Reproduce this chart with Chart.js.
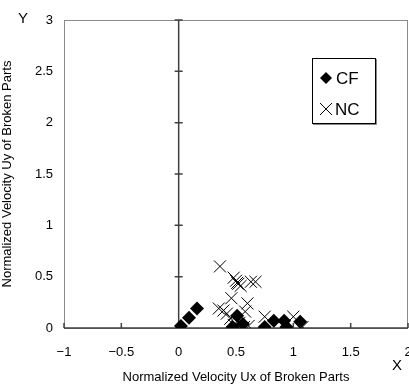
<!DOCTYPE html>
<html>
<head>
<meta charset="utf-8">
<script src="https://cdn.jsdelivr.net/npm/chart.js@4.4.1/dist/chart.umd.min.js"></script>
<style>
  html, body { margin: 0; padding: 0; background: #fff; }
  #wrap { width: 409px; height: 385px; position: relative; }
</style>
</head>
<body>
<div id="wrap"><canvas id="chart"></canvas></div>
<script>
// values
const cfX = [0.02, 0.09, 0.16, 0.47, 0.51, 0.56, 0.75, 0.83, 0.92, 0.94, 1.06];
const cfY = [0.02, 0.10, 0.19, 0.01, 0.12, 0.04, 0.01, 0.07, 0.07, 0.01, 0.06];

const ncX = [0.36, 0.48, 0.50, 0.51, 0.52, 0.54, 0.63, 0.67, 0.46, 0.35, 0.39, 0.42, 0.45, 0.60, 0.58, 0.48, 0.57, 0.61, 0.75, 1.00, 1.08, 0.53];
const ncY = [0.60, 0.49, 0.46, 0.44, 0.43, 0.41, 0.45, 0.45, 0.29, 0.19, 0.17, 0.14, 0.09, 0.24, 0.16, 0.03, 0.01, 0.02, 0.11, 0.11, 0.01, 0.05];

const seriesNames = ["CF", "NC"];
const xTitle = "Normalized Velocity Ux of Broken Parts";
const yTitle = "Normalized Velocity Uy of Broken Parts";

const font = "'Liberation Sans', Arial, sans-serif";

function toPoints(xs, ys) {
    return xs.map((x, i) => ({ x: x, y: ys[i] }));
}

// tick text like the original: no trailing zeros, real minus sign
function fmt(v) {
    return String(Math.round(v * 10) / 10).replace("-", "\u2212");
}

const noPadding = () => ({ left: 0, top: 0, right: 0, bottom: 0 });

const axesPlugin = {
    id: "axesFrame",
    beforeDatasetsDraw(chart) {
        const ctx = chart.ctx;
        const a = chart.chartArea;
        const xs = chart.scales.x;
        const ys = chart.scales.y;
        ctx.save();
        // frame
        ctx.strokeStyle = "#8a8a8a";
        ctx.lineWidth = 1;
        ctx.strokeRect(a.left + 0.5, a.top + 0.5, a.right - a.left - 1, a.bottom - a.top);
        // axis lines
        ctx.strokeStyle = "#404040";
        ctx.lineWidth = 1.5;
        const y0 = ys.getPixelForValue(0);
        const x0 = xs.getPixelForValue(0);
        ctx.beginPath();
        ctx.moveTo(a.left, y0);
        ctx.lineTo(a.right, y0);
        ctx.moveTo(x0, a.top);
        ctx.lineTo(x0, a.bottom);
        xs.ticks.forEach(t => {
            const px = xs.getPixelForValue(t.value);
            ctx.moveTo(px, y0);
            ctx.lineTo(px, y0 - 5);
        });
        ys.ticks.forEach(t => {
            const py = ys.getPixelForValue(t.value);
            ctx.moveTo(x0 - 4, py);
            ctx.lineTo(x0 + 4, py);
        });
        ctx.stroke();
        ctx.restore();
    },
    afterDraw(chart) {
        const ctx = chart.ctx;
        ctx.save();
        ctx.fillStyle = "#000";
        ctx.font = "15px " + font;
        ctx.textAlign = "center";
        ctx.textBaseline = "middle";
        ctx.fillText("Y", 23, 19);
        ctx.fillText("X", 397, 366);

        // legend box
        const lx = 312, ly = 58, lw = 63, lh = 65;
        ctx.fillStyle = "#fff";
        ctx.fillRect(lx, ly, lw, lh);
        ctx.strokeStyle = "#000";
        ctx.lineWidth = 1;
        ctx.strokeRect(lx + 0.5, ly + 0.5, lw, lh);
        ctx.strokeStyle = "#888";
        ctx.beginPath();
        ctx.moveTo(lx + 1, ly + lh + 1.5);
        ctx.lineTo(lx + lw + 1.5, ly + lh + 1.5);
        ctx.lineTo(lx + lw + 1.5, ly + 1);
        ctx.stroke();

        ctx.fillStyle = "#000";
        ctx.beginPath();
        ctx.moveTo(326, 72); ctx.lineTo(332, 78); ctx.lineTo(326, 84); ctx.lineTo(320, 78);
        ctx.closePath();
        ctx.fill();
        ctx.strokeStyle = "#000";
        ctx.beginPath();
        ctx.moveTo(320, 103); ctx.lineTo(332, 115);
        ctx.moveTo(332, 103); ctx.lineTo(320, 115);
        ctx.stroke();

        ctx.font = "17px " + font;
        ctx.textAlign = "left";
        ctx.fillText(seriesNames[0], 336, 79);
        ctx.fillText(seriesNames[1], 335, 110);
        ctx.restore();
    }
};

const data = {
    datasets: [
        {
            label: seriesNames[0],
            data: toPoints(cfX, cfY),
            pointStyle: "rectRot",
            pointRadius: 7,
            pointHoverRadius: 7,
            backgroundColor: "#000",
            borderColor: "#000",
            borderWidth: 0
        },
        {
            label: seriesNames[1],
            data: toPoints(ncX, ncY),
            pointStyle: "crossRot",
            pointRadius: 8.5,
            pointHoverRadius: 8.5,
            backgroundColor: "#000",
            borderColor: "#000",
            borderWidth: 1
        }
    ]
};

const config = {
    type: "scatter",
    data: data,
    options: {
        responsive: true,
        maintainAspectRatio: false,
        animation: false,
        layout: { autoPadding: false, padding: { top: 20, right: 1, left: 0, bottom: 0 } },
        plugins: {
            legend: { display: false },
            tooltip: { enabled: false }
        },
        scales: {
            x: {
                type: "linear",
                min: -1,
                max: 2,
                grid: { display: false, drawTicks: false },
                border: { display: false },
                ticks: {
                    stepSize: 0.5,
                    padding: 17,
                    color: "#000",
                    font: { family: font, size: 13 },
                    maxRotation: 0,
                    callback: v => fmt(v)
                },
                title: {
                    display: true,
                    text: xTitle,
                    color: "#000",
                    font: { family: font, size: 13 },
                    padding: { top: 5, bottom: 0 }
                },
                afterFit(scale) {
                    scale.height = 57;
                    scale.paddingLeft = 0;
                    scale.paddingRight = 0;
                    scale.getPadding = noPadding;
                }
            },
            y: {
                type: "linear",
                min: 0,
                max: 3,
                grid: { display: false, drawTicks: false },
                border: { display: false },
                ticks: {
                    stepSize: 0.5,
                    padding: 11,
                    color: "#000",
                    font: { family: font, size: 13 },
                    callback: v => fmt(v)
                },
                title: {
                    display: true,
                    text: yTitle,
                    color: "#000",
                    font: { family: font, size: 13 },
                    padding: { top: 0, bottom: 3 }
                },
                afterFit(scale) {
                    scale.width = 64;
                    scale.paddingTop = 0;
                    scale.paddingBottom = 0;
                    scale.getPadding = noPadding;
                }
            }
        }
    },
    plugins: [axesPlugin]
};

new Chart(document.getElementById("chart"), config);
</script>
</body>
</html>
